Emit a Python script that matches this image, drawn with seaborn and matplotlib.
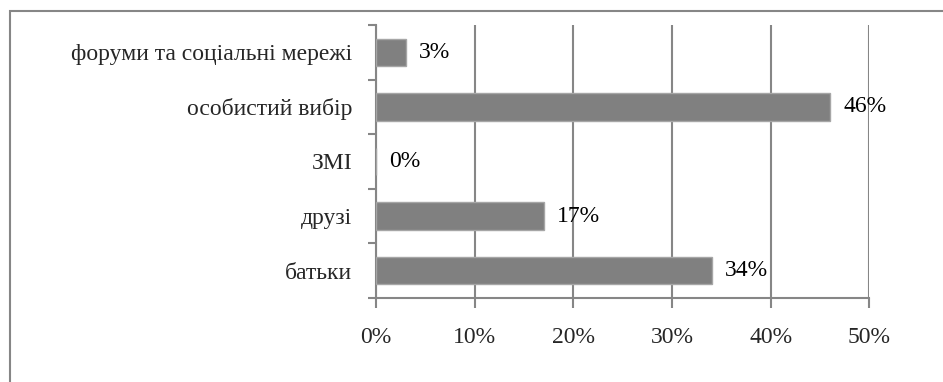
import matplotlib
matplotlib.use("Agg")
import matplotlib.pyplot as plt
from matplotlib.patches import Rectangle
from matplotlib.ticker import FixedLocator, PercentFormatter
import seaborn as sns
import pandas as pd

categories = ["форуми та соціальні мережі", "особистий вибір", "ЗМІ", "друзі", "батьки"]
shares = [3, 46, 0, 17, 34]
x_ticks = [0, 10, 20, 30, 40, 50]

sns.set_style("white")
plt.rcParams["font.family"] = ["Liberation Serif", "DejaVu Serif"]

df = pd.DataFrame({"source": categories, "share": shares})

fig = plt.figure(figsize=(9.43, 3.82), dpi=100)
ax = fig.add_axes([376 / 943, 1 - 298 / 382, 493.5 / 943, 273 / 382])

grey = "#868686"
sns.barplot(data=df, x="share", y="source", orient="h", color="#808080",
            width=0.5, saturation=1, edgecolor="#a6a6a6", linewidth=1, ax=ax,
            zorder=3)

ax.set_xlim(0, 50)
ax.set_ylim(len(categories) - 0.5, -0.5)
ax.set_xticks(x_ticks)
ax.xaxis.set_major_formatter(PercentFormatter(decimals=0))
ax.set_xlabel("")
ax.set_ylabel("")

# vertical grid lines
ax.grid(axis="x", color=grey, linewidth=1.5, zorder=0)
ax.grid(axis="y", visible=False)

for side in ["top", "right"]:
    ax.spines[side].set_visible(False)
for side in ["left", "bottom"]:
    ax.spines[side].set_color(grey)
    ax.spines[side].set_linewidth(1.5)

ax.tick_params(axis="x", length=7, width=1.5, color=grey, direction="out",
               labelsize=17, pad=14, bottom=True)
ax.tick_params(axis="y", which="major", length=0, labelsize=17, pad=17)
ax.yaxis.set_minor_locator(FixedLocator([i - 0.5 for i in range(len(categories) + 1)]))
ax.tick_params(axis="y", which="minor", length=6, width=1.5, color=grey,
               direction="out", left=True)

# value labels
for i, v in enumerate(shares):
    ax.annotate(f"{v}%", xy=(v, i), xytext=(9.5, 0), textcoords="offset points",
                va="center", ha="left", fontsize=17, color="black", zorder=4)

# chart frame
fig.patches.append(Rectangle((10 / 943, -0.2), 1.2, 1 - 11 / 382 + 0.2,
                             transform=fig.transFigure, fill=False,
                             edgecolor=grey, linewidth=1.5))

fig.savefig("out.png", dpi=100)
